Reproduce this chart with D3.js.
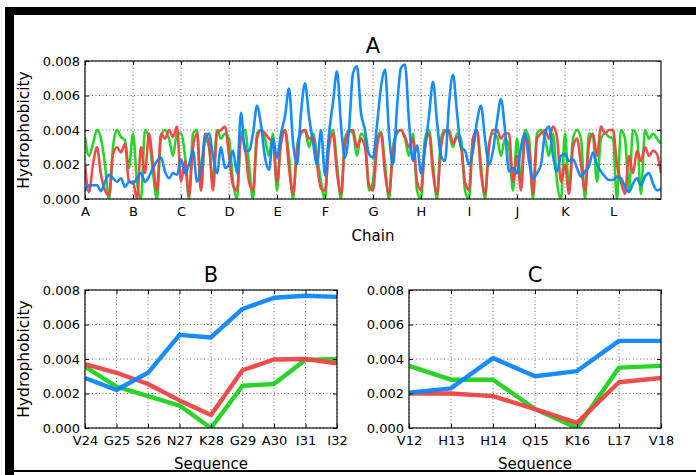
<!DOCTYPE html>
<html>
<head>
<meta charset="utf-8">
<script src="https://cdn.jsdelivr.net/npm/d3@7"></script>
<style>
  body { margin: 0; background: #fff; }
  text { font-family: "DejaVu Sans", sans-serif; fill: #000; }
</style>
</head>
<body>
<svg id="chart" width="696" height="475"></svg>
<script>
// hydrophobicity values are in units of 0.001
const yTickValues = [0, 2, 4, 6, 8];
const yTickLabels = ["0.000", "0.002", "0.004", "0.006", "0.008"];

// panel A: 12 chains, 12 samples per chain (+ closing point)
const chainLabels = ["A", "B", "C", "D", "E", "F", "G", "H", "I", "J", "K", "L"];
const samplesPerChain = 12;

const chainGreen = [
  3.6, 2.5, 3.2, 4.0, 3.5, 2.0, 0.0, 3.0, 4.0, 3.6, 3.4, 1.8,
  3.8, 1.0, 0.0, 4.0, 3.5, 1.5, 0.0, 3.6, 4.0, 3.5, 2.5, 3.8,
  3.8, 2.5, 0.0, 3.8, 4.0, 0.5, 3.5, 3.0, 1.0, 4.0, 3.5, 3.8,
  3.5, 1.0, 0.0, 3.8, 4.0, 2.0, 0.0, 3.8, 4.0, 3.5, 2.5, 3.8,
  0.5, 3.5, 4.0, 2.5, 0.0, 3.0, 3.9, 4.0, 3.0, 3.8, 2.5, 1.0,
  0.0, 3.5, 4.0, 2.0, 0.0, 3.5, 4.0, 3.8, 2.5, 3.8, 3.5, 0.5,
  1.0, 3.5, 3.9, 2.0, 0.0, 3.0, 3.8, 4.0, 3.5, 2.5, 3.8, 0.5,
  0.0, 3.5, 4.0, 2.0, 0.0, 3.5, 4.0, 3.8, 3.0, 3.8, 3.5, 0.5,
  0.0, 3.5, 3.9, 2.0, 0.0, 3.2, 3.8, 3.6, 2.5, 3.5, 3.0, 0.5,
  3.5, 1.0, 4.0, 3.5, 0.0, 3.8, 4.0, 3.5, 2.5, 3.8, 1.0, 0.0,
  3.8, 0.5, 3.5, 4.0, 3.5, 0.0, 3.8, 3.6, 1.0, 3.5, 3.8, 3.6,
  3.5, 0.0, 4.0, 3.5, 0.5, 4.0, 3.6, 0.3, 4.0, 3.5, 3.8, 3.5,
  3.2
];

const chainRed = [
  2.0, 0.4, 2.0, 3.0, 1.4, 0.5, 0.2, 2.6, 3.0, 2.7, 3.2, 1.0,
  1.0, 0.0, 3.0, 1.5, 3.8, 2.0, 0.5, 3.8, 3.5, 4.0, 3.6, 4.2,
  1.0, 2.2, 0.2, 3.0, 3.8, 0.5, 3.8, 3.2, 0.5, 3.8, 4.0, 4.2,
  2.5, 0.8, 0.5, 3.6, 3.0, 1.0, 0.5, 3.5, 4.0, 3.8, 3.5, 3.3,
  1.0, 3.2, 4.0, 1.8, 0.3, 2.8, 3.8, 4.0, 3.5, 3.6, 2.0, 0.6,
  0.5, 3.0, 3.8, 1.5, 0.3, 3.2, 3.9, 4.0, 3.0, 3.5, 3.0, 0.8,
  0.5, 3.0, 3.8, 1.5, 0.3, 2.8, 3.9, 4.0, 3.6, 3.0, 3.5, 1.0,
  0.5, 3.0, 3.8, 1.5, 0.3, 3.0, 3.9, 4.0, 3.2, 3.6, 3.0, 1.0,
  0.5, 3.5, 4.0, 1.5, 0.3, 3.0, 4.0, 4.0, 3.5, 3.8, 3.8, 1.0,
  2.5, 0.5, 3.6, 3.0, 0.3, 3.5, 3.8, 4.0, 3.5, 4.2, 3.6, 1.0,
  2.0, 0.3, 3.0, 3.5, 2.0, 0.5, 3.2, 3.8, 2.5, 4.2, 3.8, 4.0,
  4.0, 2.0, 1.0, 0.3, 2.5, 1.5, 2.8, 2.2, 3.0, 2.5, 2.8, 2.6,
  1.5
];

const chainBlue = [
  0.45, 0.8, 0.8, 0.8, 0.45, 1.0, 1.4, 1.2, 1.0, 1.2, 0.7, 1.0,
  0.9, 1.2, 1.5, 1.0, 1.3, 1.8, 2.2, 2.4, 1.6, 1.2, 1.5, 1.4,
  2.3, 1.5, 2.0, 2.8, 1.0, 1.8, 3.5, 3.8, 2.5, 1.5, 3.0, 1.8,
  2.0, 2.8, 1.5, 5.0, 2.8, 2.8, 3.8, 5.4, 4.3, 2.4, 1.7, 3.5,
  2.4, 3.8, 4.8, 6.4, 3.3, 2.0, 5.0, 6.7, 4.8, 3.3, 2.0, 4.0,
  1.4, 3.8, 5.6, 7.4, 4.3, 2.4, 4.0, 7.3, 7.7, 5.0, 4.0, 2.6,
  2.4, 4.3, 6.5, 7.5, 3.8, 2.0, 5.3, 7.6, 7.8, 4.5, 2.2, 3.1,
  1.5, 3.0, 4.8, 6.8, 4.5, 2.5, 2.2, 5.5, 7.2, 5.0, 3.0, 2.8,
  2.0, 2.8, 4.5, 5.4, 3.5, 2.0, 2.8, 4.5, 5.8, 4.0, 1.6, 1.8,
  1.5, 3.0, 3.8, 2.2, 1.2, 1.5, 2.0, 3.8, 4.2, 2.5, 1.6, 2.5,
  2.6, 2.2, 2.3, 1.8, 1.3, 1.6, 1.9, 2.7, 2.0, 1.6, 1.3, 1.1,
  1.1, 1.3, 1.2, 0.7, 0.4, 0.9, 1.2, 0.8, 1.3, 1.5, 0.9, 0.5,
  0.6
];

// panel B
const seqB = ["V24", "G25", "S26", "N27", "K28", "G29", "A30", "I31", "I32"];
const seqBGreen = [3.55, 2.4, 1.85, 1.3, 0.0, 2.45, 2.55, 3.95, 4.0];
const seqBRed = [3.7, 3.2, 2.55, 1.6, 0.75, 3.35, 3.97, 4.0, 3.75];
const seqBBlue = [2.9, 2.2, 3.2, 5.4, 5.25, 6.9, 7.55, 7.67, 7.6];

// panel C
const seqC = ["V12", "H13", "H14", "Q15", "K16", "L17", "V18"];
const seqCGreen = [3.6, 2.8, 2.8, 1.1, 0.0, 3.5, 3.6];
const seqCRed = [2.0, 2.0, 1.85, 1.1, 0.3, 2.65, 2.9];
const seqCBlue = [2.05, 2.3, 4.05, 3.0, 3.3, 5.05, 5.05];

const colors = { green: "#1ed21e", red: "#f04242", blue: "#0a86ff" };

let svg = d3.select("#chart");

// black frame around the figure
svg.append("rect").attr("x", 5).attr("y", 7).attr("width", 691).attr("height", 8).attr("fill", "#000");
svg.append("rect").attr("x", 5).attr("y", 7).attr("width", 9).attr("height", 468).attr("fill", "#000");
svg.append("rect").attr("x", 14).attr("y", 470).attr("width", 682).attr("height", 2).attr("fill", "#000");

function drawPanel(cfg) {
    let g = svg.append("g");
    let y = d3.scaleLinear().domain([0, 8]).range([cfg.bottom, cfg.top]);

    let clipId = "clip-" + cfg.title;
    g.append("clipPath").attr("id", clipId)
        .append("rect")
        .attr("x", cfg.left).attr("y", cfg.top)
        .attr("width", cfg.right - cfg.left).attr("height", cfg.bottom - cfg.top);

    // dotted grid
    let grid = g.append("g")
        .style("stroke", "#444")
        .style("stroke-width", "0.8px")
        .style("stroke-dasharray", "1,2.5");
    grid.selectAll("line.v")
        .data(cfg.tickPos)
        .enter().append("line")
        .attr("x1", function (d) { return d; })
        .attr("x2", function (d) { return d; })
        .attr("y1", cfg.top).attr("y2", cfg.bottom);
    grid.selectAll("line.h")
        .data(yTickValues)
        .enter().append("line")
        .attr("x1", cfg.left).attr("x2", cfg.right)
        .attr("y1", function (d) { return y(d); })
        .attr("y2", function (d) { return y(d); });

    // series
    let line = d3.line()
        .x(function (d, i) { return cfg.xOf(i); })
        .y(function (d) { return y(d); })
        .curve(cfg.curve);

    let lines = g.append("g").attr("clip-path", "url(#" + clipId + ")");
    cfg.series.forEach(function (s) {
        lines.append("path")
            .datum(s.values)
            .attr("d", line)
            .style("fill", "none")
            .style("stroke", s.color)
            .style("stroke-width", cfg.lineWidth + "px")
            .style("stroke-linejoin", "round")
            .style("opacity", 0.95);
    });

    // axes with inward ticks
    let yAxis = d3.axisLeft(y)
        .tickValues(yTickValues)
        .tickFormat(function (d, i) { return yTickLabels[i]; })
        .tickSizeInner(-4).tickSizeOuter(0).tickPadding(5);
    let ya = g.append("g").attr("transform", "translate(" + cfg.left + ",0)").call(yAxis);

    let yAxisR = d3.axisRight(y).tickValues(yTickValues).tickFormat("").tickSizeInner(-4).tickSizeOuter(0);
    let yr = g.append("g").attr("transform", "translate(" + cfg.right + ",0)").call(yAxisR);

    let xAxis = d3.axisBottom(cfg.tickScale)
        .tickValues(cfg.tickValues)
        .tickFormat(function (d, i) { return cfg.tickLabels[i]; })
        .tickSizeInner(-4).tickSizeOuter(0).tickPadding(8);
    let xa = g.append("g").attr("transform", "translate(0," + cfg.bottom + ")").call(xAxis);

    let xAxisT = d3.axisTop(cfg.tickScale).tickValues(cfg.tickValues).tickFormat("").tickSizeInner(-4).tickSizeOuter(0);
    let xt = g.append("g").attr("transform", "translate(0," + cfg.top + ")").call(xAxisT);

    [ya, yr, xa, xt].forEach(function (a) {
        a.select(".domain").remove();
        a.selectAll("line").style("stroke", "#000").style("stroke-width", "1px");
        a.selectAll("text")
            .style("font-family", "'DejaVu Sans', sans-serif")
            .style("font-size", "13px")
            .style("fill", "#000");
    });

    // frame
    g.append("rect")
        .attr("x", cfg.left).attr("y", cfg.top)
        .attr("width", cfg.right - cfg.left).attr("height", cfg.bottom - cfg.top)
        .style("fill", "none")
        .style("stroke", "#111")
        .style("stroke-width", "1.2px");

    // title and labels
    let cx = (cfg.left + cfg.right) / 2;
    g.append("text")
        .attr("x", cx).attr("y", cfg.top - 8)
        .attr("text-anchor", "middle")
        .style("font-size", "21px")
        .text(cfg.title);

    g.append("text")
        .attr("x", cx).attr("y", cfg.bottom + cfg.xLabelOffset)
        .attr("text-anchor", "middle")
        .style("font-size", "15px")
        .text(cfg.xLabel);

    if (cfg.yLabel) {
        g.append("text")
            .attr("transform", "translate(29," + ((cfg.top + cfg.bottom) / 2) + ") rotate(-90)")
            .attr("text-anchor", "middle")
            .style("font-size", "15.5px")
            .text(cfg.yLabel);
    }
}

// panel A
let xA = d3.scaleLinear().domain([0, chainLabels.length * samplesPerChain]).range([85, 661]);
let chainTicks = chainLabels.map(function (d, i) { return i * samplesPerChain; });
drawPanel({
    title: "A", left: 85, right: 661, top: 61, bottom: 199,
    xOf: function (i) { return xA(i); }, curve: d3.curveMonotoneX,
    tickScale: xA, tickValues: chainTicks, tickLabels: chainLabels,
    tickPos: chainTicks.map(function (d) { return xA(d); }),
    xLabel: "Chain", xLabelOffset: 42, yLabel: "Hydrophobicity", lineWidth: 2.6,
    series: [
        { values: chainGreen, color: colors.green },
        { values: chainRed, color: colors.red },
        { values: chainBlue, color: colors.blue }
    ]
});

// panel B
let xB = d3.scalePoint().domain(seqB).range([85, 337]);
drawPanel({
    title: "B", left: 85, right: 337, top: 290, bottom: 428,
    xOf: function (i) { return xB(seqB[i]); }, curve: d3.curveLinear,
    tickScale: xB, tickValues: seqB, tickLabels: seqB,
    tickPos: seqB.map(function (d) { return xB(d); }),
    xLabel: "Sequence", xLabelOffset: 41, yLabel: "Hydrophobicity", lineWidth: 4.4,
    series: [
        { values: seqBGreen, color: colors.green },
        { values: seqBRed, color: colors.red },
        { values: seqBBlue, color: colors.blue }
    ]
});

// panel C
let xC = d3.scalePoint().domain(seqC).range([409, 661]);
drawPanel({
    title: "C", left: 409, right: 661, top: 290, bottom: 428,
    xOf: function (i) { return xC(seqC[i]); }, curve: d3.curveLinear,
    tickScale: xC, tickValues: seqC, tickLabels: seqC,
    tickPos: seqC.map(function (d) { return xC(d); }),
    xLabel: "Sequence", xLabelOffset: 41, yLabel: null, lineWidth: 4.4,
    series: [
        { values: seqCGreen, color: colors.green },
        { values: seqCRed, color: colors.red },
        { values: seqCBlue, color: colors.blue }
    ]
});
</script>
</body>
</html>
